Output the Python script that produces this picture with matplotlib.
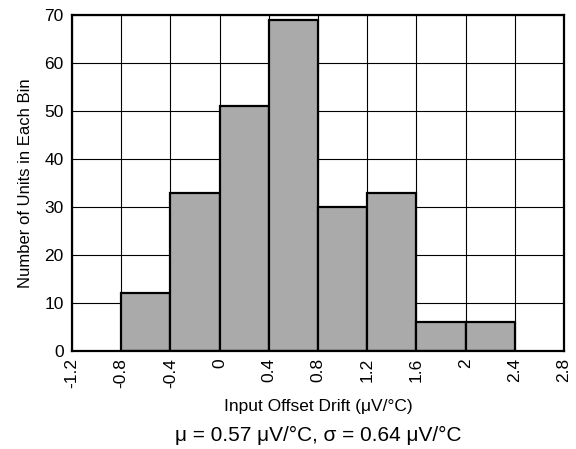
import matplotlib
matplotlib.use("Agg")
import matplotlib.pyplot as plt
import numpy as np

plt.rcParams['font.family'] = ['Liberation Sans', 'DejaVu Sans']

bin_edges = [-0.8, -0.4, 0.0, 0.4, 0.8, 1.2, 1.6, 2.0, 2.4]
counts = [12, 33, 51, 69, 30, 33, 6, 6]
xticks = [-1.2, -0.8, -0.4, 0, 0.4, 0.8, 1.2, 1.6, 2, 2.4, 2.8]
xticklabels = ['-1.2', '-0.8', '-0.4', '0', '0.4', '0.8', '1.2', '1.6', '2', '2.4', '2.8']
yticks = [0, 10, 20, 30, 40, 50, 60, 70]

fig = plt.figure(figsize=(5.76, 4.49), dpi=100)
ax = fig.add_axes([0.125, 0.2183, 0.854, 0.7483])

lefts = bin_edges[:-1]
widths = np.diff(bin_edges)
ax.bar(lefts, counts, width=widths, align='edge', color='#aaaaaa',
       edgecolor='black', linewidth=1.6, zorder=3)

ax.set_xlim(-1.2, 2.8)
ax.set_ylim(0, 70)
ax.set_xticks(xticks)
ax.set_xticklabels(xticklabels, rotation=90, fontsize=12.5)
ax.set_yticks(yticks)
ax.set_yticklabels([str(v) for v in yticks], fontsize=12.5)
ax.tick_params(axis='x', length=0, pad=5)
ax.tick_params(axis='y', length=0, pad=6)
ax.grid(True, color='black', linewidth=0.8, zorder=0)
ax.set_axisbelow(True)
for s in ax.spines.values():
    s.set_linewidth(1.6)
    s.set_zorder(5)

ax.set_xlabel('Input Offset Drift (μV/°C)', fontsize=12.5, labelpad=8)
ax.set_ylabel('Number of Units in Each Bin', fontsize=12, labelpad=8)

fig.text(0.552, 0.031, 'μ = 0.57 μV/°C, σ = 0.64 μV/°C', ha='center', va='center', fontsize=15)

fig.savefig('out.png', dpi=100)
